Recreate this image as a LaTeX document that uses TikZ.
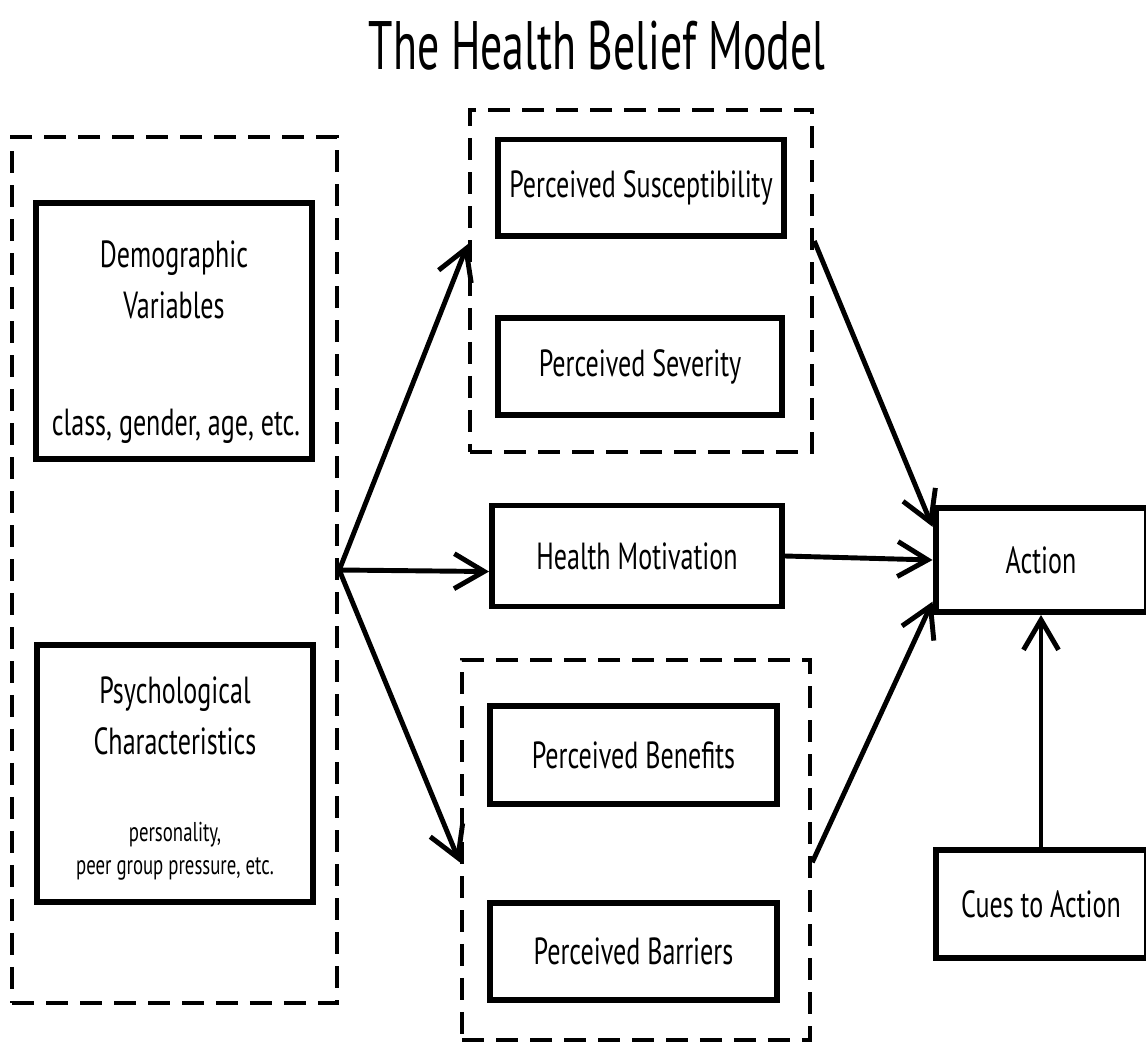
\documentclass[tikz,border=0pt]{standalone}
\usepackage{fontspec}
\setmainfont{PT Sans}[FakeStretch=0.69]
\newfontfamily\titlefont{PT Sans}[FakeStretch=0.64]
\usetikzlibrary{arrows.meta}

\begin{document}
\begin{tikzpicture}[x=0.02cm,y=-0.02cm,
 box/.style={draw,line width=3.4pt,inner sep=0pt,align=center,font=\fontsize{21.5}{29}\selectfont},
 txt/.style={inner sep=0pt,align=center,font=\fontsize{21.5}{29}\selectfont},
 small/.style={inner sep=0pt,align=center,font=\fontsize{15.5}{19}\selectfont},
 group/.style={draw,line width=2.6pt,dash pattern=on 0.44cm off 0.24cm,inner sep=0pt},
 link/.style={line width=2.8pt,-{Straight Barb[length=0.6cm,width=0.7cm,line width=2.8pt]}}]
 \useasboundingbox (0,0) rectangle (1146,1043);
 \clip (0,0) rectangle (1146,1043);
 \node[anchor=base,inner sep=0pt,font=\titlefont\fontsize{39}{40}\selectfont] (title) at (597,70) {The Health Belief Model};
 % modifying factors
 \node[group,minimum width=6.5cm,minimum height=17.32cm] (mods) at (174.5,570) {};
 \node[box,minimum width=5.52cm,minimum height=5.12cm] (demo) at (174,331) {};
 \node[txt] (demo-t) at (174,280) {Demographic\\Variables};
 \node[txt] (demo-d) at (176,426) {class, gender, age, etc.};
 \node[box,minimum width=5.52cm,minimum height=5.14cm] (psych) at (175,773.5) {};
 \node[txt] (psych-t) at (175,716) {Psychological\\Characteristics};
 \node[small] (psych-d) at (175,851) {personality,\\peer group pressure, etc.};
 % perceived threat
 \node[group,minimum width=6.84cm,minimum height=6.84cm] (threat) at (641,281) {};
 \node[box,minimum width=5.72cm,minimum height=1.94cm] (suscept) at (641,188) {Perceived Susceptibility};
 \node[box,minimum width=5.68cm,minimum height=1.94cm] (severity) at (640,366.5) {Perceived Severity};
 \node[box,minimum width=5.8cm,minimum height=2.02cm] (motiv) at (637,556) {Health Motivation};
 % benefits and barriers
 \node[group,minimum width=6.96cm,minimum height=7.6cm] (expect) at (636,850) {};
 \node[box,minimum width=5.74cm,minimum height=1.96cm] (benefit) at (633.5,755) {Perceived Benefits};
 \node[box,minimum width=5.74cm,minimum height=1.94cm] (barrier) at (633.5,951.5) {Perceived Barriers};
 % outcome
 \node[box,minimum width=4.22cm,minimum height=2.08cm] (action) at (1041,560) {Action};
 \node[box,minimum width=4.22cm,minimum height=2.16cm] (cues) at (1041,904) {Cues to Action};
 % connectors
 \draw[link] (mods.east) -- (threat.168);
 \draw[link] (mods.east) -- (motiv.186);
 \draw[link] (mods.east) -- (expect.184);
 \draw[link] (threat.13) -- (action.163);
 \draw[link] (motiv.east) -- (action.west);
 \draw[link] (expect.-4) -- (action.201);
 \draw[link] (cues.north) -- (action.south);
\end{tikzpicture}
\end{document}
